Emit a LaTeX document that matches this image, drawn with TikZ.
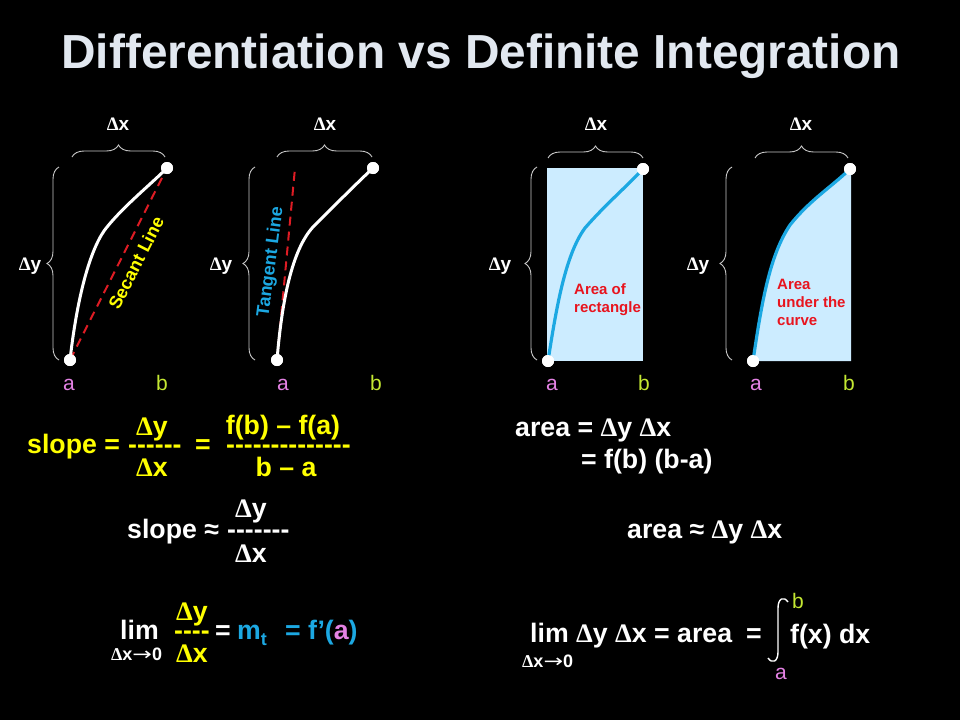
\documentclass[tikz,border=0pt]{standalone}
\usepackage{fontspec}
\setmainfont{Liberation Sans}
\newfontfamily\sym{Liberation Serif}
\newfontfamily\arf{DejaVu Sans}
\usetikzlibrary{decorations.pathreplacing}
\definecolor{titlec}{RGB}{226,232,240}
\definecolor{yel}{RGB}{255,255,0}
\definecolor{pinka}{RGB}{228,130,228}
\definecolor{greenb}{RGB}{196,232,50}
\definecolor{bluet}{RGB}{28,168,226}
\definecolor{lightb}{RGB}{204,236,255}
\definecolor{redt}{RGB}{232,20,30}
\definecolor{redd}{RGB}{222,28,36}
\definecolor{bracec}{RGB}{200,200,200}
\newcommand\fs[1]{\fontsize{#1}{#1}\selectfont}
\newcommand\Dl{{\sym Δ}}
\newcommand\Ar{{\arf\mdseries\scalebox{1.3}[1]{→}}}
\tikzset{
  dot/.style={circle,fill=white,inner sep=0pt,minimum size=12pt},
  brc/.style={draw=bracec,line width=0.9pt,decorate,decoration={brace,amplitude=12pt}},
  dlbl/.style={text=white,font=\fs{19}\bfseries,inner sep=0pt,anchor=base},
  albl/.style={text=pinka,font=\fs{21},inner sep=0pt,anchor=base},
  blbl/.style={text=greenb,font=\fs{21},inner sep=0pt,anchor=base},
  big/.style={font=\fs{26.7}\bfseries,inner sep=0pt,anchor=base west},
  bigc/.style={font=\fs{26.7}\bfseries,inner sep=0pt,anchor=base},
  small/.style={font=\fs{18}\bfseries,inner sep=0pt,anchor=base west,text=white},
  redtxt/.style={text=redt,font=\fontsize{15}{18}\selectfont\bfseries,align=left,inner sep=0pt,anchor=north west},
  curveW/.style={draw=white,line width=3pt,line cap=round},
  curveB/.style={draw=bluet,line width=3.2pt,line cap=round},
  reddash/.style={draw=redd,line width=2pt,dash pattern=on 9pt off 6pt},
}
\begin{document}
\begin{tikzpicture}[x=1pt,y=-1pt]
\fill[black] (0,0) rectangle (960,720);
\useasboundingbox (0,0) rectangle (960,720);

% title
\node[text=titlec,font=\fs{47.8}\bfseries,inner sep=0pt,anchor=base] (title) at (481,68) {Differentiation vs Definite Integration};

% ---------- panel 1: secant ----------
\node[dot] (a1) at (70,360) {};
\node[dot] (b1) at (167,168) {};
\draw[reddash] (a1.center) -- (b1.center);
\draw[curveW] (a1.center) .. controls (78,290) and (92,245) .. (107,227) .. controls (125,205) and (150,185) .. (b1.center);
\node[dot] at (a1) {};
\node[dot] at (b1) {};
\node[text=yel,font=\fs{18}\bfseries,rotate=63,inner sep=0pt] (sec) at (136,263) {Secant Line};
\draw[brc] (72,157) -- (165,157);
\node[dlbl] (dx1) at (118,130) {\Dl x};
\draw[brc] (59,360) -- (59,167);
\node[dlbl] (dy1) at (30,270) {\Dl y};
\node[albl] (la1) at (69,390) {a};
\node[blbl] (lb1) at (162,390) {b};

% ---------- panel 2: tangent ----------
\node[dot] (a2) at (277,360) {};
\node[dot] (b2) at (373,168) {};
\coordinate (t2) at (295,168);
\draw[reddash] (a2.center) -- (t2);
\draw[curveW] (a2.center) .. controls (282,300) and (292,250) .. (313,227) .. controls (335,205) and (355,185) .. (b2.center);
\node[dot] at (a2) {};
\node[dot] at (b2) {};
\node[text=bluet,font=\fs{18}\bfseries,rotate=82.5,inner sep=0pt] (tan) at (271,262) {Tangent Line};
\draw[brc] (277,157) -- (372,157);
\node[dlbl] (dx2) at (325,130) {\Dl x};
\draw[brc] (255,360) -- (255,167);
\node[dlbl] (dy2) at (221,270) {\Dl y};
\node[albl] (la2) at (283,390) {a};
\node[blbl] (lb2) at (376,390) {b};

% ---------- panel 3: rectangle ----------
\fill[lightb] (547,168) rectangle (643,361);
\node[dot] (a3) at (548,361) {};
\node[dot] (b3) at (643,169) {};
\draw[curveB] (a3.center) .. controls (556,310) and (565,255) .. (585,228) .. controls (605,205) and (625,188) .. (b3.center);
\node[dot] at (a3) {};
\node[dot] at (b3) {};
\node[redtxt] (r3) at (574,283) {Area of\\rectangle};
\draw[brc] (548,158) -- (643,158);
\node[dlbl] (dx3) at (596,130) {\Dl x};
\draw[brc] (537,360) -- (537,167);
\node[dlbl] (dy3) at (500,270) {\Dl y};
\node[albl] (la3) at (552,390) {a};
\node[blbl] (lb3) at (644,390) {b};

% ---------- panel 4: area under curve ----------
\fill[lightb] (753,361) .. controls (762,300) and (770,255) .. (790,225) .. controls (810,200) and (830,188) .. (850,169) -- (851,169) -- (851,361) -- cycle;
\node[dot] (a4) at (753,361) {};
\node[dot] (b4) at (850,169) {};
\draw[curveB] (a4.center) .. controls (762,300) and (770,255) .. (790,225) .. controls (810,200) and (830,188) .. (b4.center);
\node[dot] at (a4) {};
\node[dot] at (b4) {};
\node[redtxt] (r4) at (777,279) {Area\\under the\\curve};
\draw[brc] (755,158) -- (848,158);
\node[dlbl] (dx4) at (801,130) {\Dl x};
\draw[brc] (732,360) -- (732,167);
\node[dlbl] (dy4) at (698,270) {\Dl y};
\node[albl] (la4) at (756,390) {a};
\node[blbl] (lb4) at (849,390) {b};

% ---------- left formulas ----------
\node[big,text=yel] (s1) at (27,453) {slope =};
\node[big,text=yel] (d1) at (128,453) {-{}-{}-{}-{}-{}-};
\node[bigc,text=yel] (dy5) at (152,435) {\Dl y};
\node[bigc,text=yel] (dx5) at (152,476) {\Dl x};
\node[big,text=yel] (e1) at (195,453) {=};
\node[big,text=yel] (d2) at (226,453) {-{}-{}-{}-{}-{}-{}-{}-{}-{}-{}-{}-{}-{}-};
\node[bigc,text=yel] (fb) at (283,434) {f(b) – f(a)};
\node[bigc,text=yel] (ba) at (286,476) {b – a};

\node[big,text=white] (s2) at (127,538) {slope ≈};
\node[big,text=white] (d3) at (227,538) {-{}-{}-{}-{}-{}-{}-};
\node[bigc,text=white] (dy6) at (251,517) {\Dl y};
\node[bigc,text=white] (dx6) at (251,562) {\Dl x};

\node[big,text=white] (lim1) at (120,639) {lim};
\node[small] (sub1) at (111,660) {\Dl x\Ar 0};
\node[bigc,text=yel] (dy7) at (192,620) {\Dl y};
\node[big,text=yel] (d4) at (174,639) {-{}-{}-{}-};
\node[bigc,text=yel] (dx7) at (192,662) {\Dl x};
\node[big,text=white] (e2) at (215,639) {=};
\node[big,text=bluet] (mt) at (237,639) {m\raisebox{-6pt}{\fs{18}t}};
\node[big,text=bluet] (fp) at (285,639) {= f’(\textcolor{pinka}{a})};

% ---------- right formulas ----------
\node[big,text=white] (ar1) at (515,436) {area = \Dl y \Dl x};
\node[big,text=white] (ar2) at (581,468) {= f(b) (b-a)};
\node[big,text=white] (ar3) at (627,538) {area ≈ \Dl y \Dl x};
\node[big,text=white] (lim2) at (530,642) {lim \Dl y \Dl x = area\hspace{14pt}=};
\node[small] (sub2) at (522,667) {\Dl x\Ar 0};
\draw[white,line width=1.4pt] (788,602) .. controls (784,596) and (778,598) .. (778,608) -- (778,652) .. controls (778,662) and (772,664) .. (768,658);
\node[text=greenb,font=\fs{21},inner sep=0pt,anchor=base west] (ib) at (792,608) {b};
\node[text=pinka,font=\fs{21},inner sep=0pt,anchor=base west] (ia) at (775,679) {a};
\node[big,text=white] (fx) at (790,643) {f(x) dx};
\end{tikzpicture}
\end{document}
